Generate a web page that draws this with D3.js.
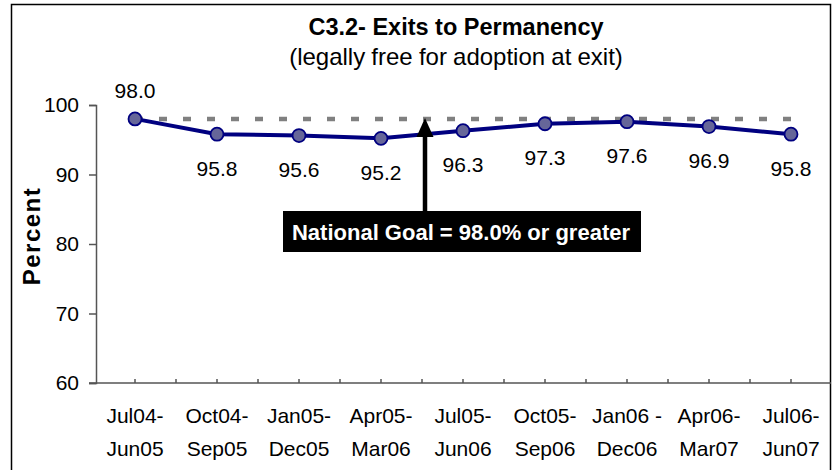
<!DOCTYPE html>
<html>
<head>
<meta charset="utf-8">
<script src="https://cdn.jsdelivr.net/npm/d3@7"></script>
<style>
  body { margin: 0; background: #fff; }
  text { font-family: "Liberation Sans", Arial, sans-serif; fill: #000; }
</style>
</head>
<body>
<script>
var categories = [
    ["Jul04-", "Jun05"],
    ["Oct04-", "Sep05"],
    ["Jan05-", "Dec05"],
    ["Apr05-", "Mar06"],
    ["Jul05-", "Jun06"],
    ["Oct05-", "Sep06"],
    ["Jan06 -", "Dec06"],
    ["Apr06-", "Mar07"],
    ["Jul06-", "Jun07"]
];
var values = [98.0, 95.8, 95.6, 95.2, 96.3, 97.3, 97.6, 96.9, 95.8];
var goal = 98.0;
var yTicks = [60, 70, 80, 90, 100];

var width = 833, height = 470;

var svg = d3.select("body")
    .append("svg")
    .attr("width", width)
    .attr("height", height);

// outer frame (bottom edge runs off the picture)
svg.append("rect")
    .attr("x", 11.5).attr("y", 4.5)
    .attr("width", 819).attr("height", 470)
    .attr("fill", "none")
    .attr("stroke", "#000")
    .attr("stroke-width", 1.5);

var xScale = d3.scaleBand()
    .domain(d3.range(categories.length))
    .range([94, 832]);

var yScale = d3.scaleLinear()
    .domain([60, 100])
    .range([383, 105]);

function cx(i) { return xScale(i) + xScale.bandwidth() / 2; }

// title
svg.append("text")
    .attr("x", 456).attr("y", 35)
    .attr("text-anchor", "middle")
    .style("font-size", "23.5px").style("font-weight", "bold")
    .text("C3.2- Exits to Permanency");

svg.append("text")
    .attr("x", 456).attr("y", 65)
    .attr("text-anchor", "middle")
    .style("font-size", "24px")
    .style("word-spacing", "-0.5px")
    .text("(legally free for adoption at exit)");

// y axis
var yAxis = svg.append("g")
    .attr("transform", "translate(96,0)")
    .call(d3.axisLeft(yScale).tickValues(yTicks).tickSize(7).tickPadding(10));
yAxis.select(".domain").attr("stroke", "#555").attr("stroke-width", 1.5);
yAxis.selectAll(".tick line").attr("stroke", "#555").attr("stroke-width", 1.5);
yAxis.selectAll(".tick text")
    .style("font-size", "21px")
    .attr("font-family", null);

// x axis line and ticks
svg.append("line")
    .attr("x1", 89).attr("x2", 831)
    .attr("y1", yScale(60)).attr("y2", yScale(60))
    .attr("stroke", "#555").attr("stroke-width", 1.5);

var tickXs = [];
categories.forEach(function(c, i) {
    tickXs.push(xScale(i));
    tickXs.push(cx(i));
});
svg.selectAll(".xtick")
    .data(tickXs.filter(function(x) { return x > 100; }))
    .enter().append("line")
    .attr("class", "xtick")
    .attr("x1", function(d) { return d; })
    .attr("x2", function(d) { return d; })
    .attr("y1", yScale(60) - 4)
    .attr("y2", yScale(60))
    .attr("stroke", "#555").attr("stroke-width", 1.5);

// category labels
var catLabels = svg.selectAll(".cat")
    .data(categories)
    .enter().append("text")
    .attr("class", "cat")
    .attr("text-anchor", "middle")
    .style("font-size", "21px");
catLabels.append("tspan")
    .attr("x", function(d, i) { return cx(i); })
    .attr("y", 423)
    .text(function(d) { return d[0]; });
catLabels.append("tspan")
    .attr("x", function(d, i) { return cx(i); })
    .attr("y", 456)
    .text(function(d) { return d[1]; });

// y axis title
svg.append("text")
    .attr("transform", "translate(40,236) rotate(-90)")
    .attr("text-anchor", "middle")
    .style("font-size", "24px").style("font-weight", "bold")
    .style("letter-spacing", "1.5px")
    .text("Percent");

// goal dashed line
svg.append("line")
    .attr("x1", cx(0)).attr("x2", cx(categories.length - 1))
    .attr("y1", yScale(goal)).attr("y2", yScale(goal))
    .attr("stroke", "#808080")
    .attr("stroke-width", 4.5)
    .attr("stroke-dasharray", "8,16");

// data line
var line = d3.line()
    .x(function(d, i) { return cx(i); })
    .y(function(d) { return yScale(d); });

svg.append("path")
    .datum(values)
    .attr("d", line)
    .attr("fill", "none")
    .attr("stroke", "#000080")
    .attr("stroke-width", 4);

svg.selectAll(".pt")
    .data(values)
    .enter().append("circle")
    .attr("class", "pt")
    .attr("cx", function(d, i) { return cx(i); })
    .attr("cy", function(d) { return yScale(d); })
    .attr("r", 6.5)
    .attr("fill", "#666699")
    .attr("stroke", "#000080")
    .attr("stroke-width", 1.8);

// data labels
svg.selectAll(".lbl")
    .data(values)
    .enter().append("text")
    .attr("class", "lbl")
    .attr("text-anchor", "middle")
    .attr("x", function(d, i) { return cx(i); })
    .attr("y", function(d, i) { return i === 0 ? yScale(d) - 21 : yScale(d) + 41.5; })
    .style("font-size", "21px")
    .text(function(d) { return d.toFixed(1); });

// annotation arrow and box
var arrowX = 425;
svg.append("line")
    .attr("x1", arrowX).attr("x2", arrowX)
    .attr("y1", 211).attr("y2", 134)
    .attr("stroke", "#000").attr("stroke-width", 4.5);
svg.append("path")
    .attr("d", "M" + arrowX + "," + (yScale(goal) - 1) +
               " L" + (arrowX - 8.5) + "," + 137 +
               " L" + (arrowX + 8.5) + "," + 137 + " Z")
    .attr("fill", "#000");

svg.append("rect")
    .attr("x", 283).attr("y", 211)
    .attr("width", 358).attr("height", 41)
    .attr("fill", "#000");
svg.append("text")
    .attr("x", 461).attr("y", 240)
    .attr("text-anchor", "middle")
    .style("font-size", "22px").style("font-weight", "bold")
    .style("fill", "#fff")
    .text("National Goal = 98.0% or greater");
</script>
</body>
</html>
